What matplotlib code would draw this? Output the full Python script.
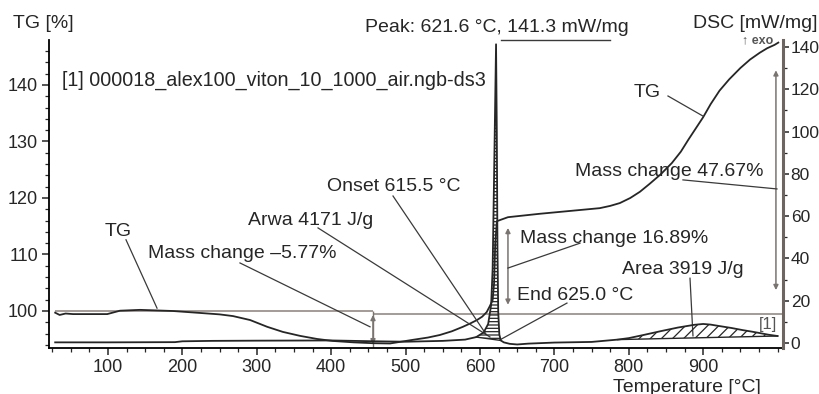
import numpy as np
import matplotlib
matplotlib.use("Agg")
import matplotlib.pyplot as plt
from matplotlib.ticker import MultipleLocator

# ── Data ──────────────────────────────────────────────────────────────────────
tg_temp = [29, 35, 43, 53, 99, 116, 143, 187, 224, 250, 268, 291, 314, 335, 358,
           381, 402, 430, 456, 479, 510, 530, 546, 562, 577, 587, 596, 603, 609,
           613, 617, 619, 620.5, 622.8, 637.6, 680, 761, 775, 788, 802, 815, 828,
           843, 858, 870, 880, 890, 900, 910, 922, 935, 950, 963, 976, 986, 996, 1001]
tg_val = [99.7, 99.3, 99.55, 99.45, 99.45, 100.05, 100.2, 100.0, 99.65, 99.4,
          99.1, 98.4, 97.2, 96.3, 95.6, 95.05, 94.7, 94.45, 94.3, 94.25, 94.9,
          95.3, 95.75, 96.4, 97.2, 97.8, 98.4, 99.0, 99.8, 100.8, 101.9, 105.0,
          112.0, 115.9, 116.6, 117.2, 118.2, 118.6, 119.1, 120.0, 121.1, 122.5,
          124.2, 126.2, 128.2, 130.3, 132.3, 134.3, 136.6, 139.0, 141.0, 143.0,
          144.5, 145.7, 146.5, 147.1, 147.5]

dsc_temp = [29, 100, 190, 200, 240, 300, 400, 460, 500, 550, 580, 595, 605,
            611, 615, 617, 619, 621.6, 622.6, 623.5, 624.5, 626, 628, 632, 640,
            650, 665, 700, 750, 785, 800, 820, 843, 866, 888, 900, 910, 922, 938,
            953, 965, 976, 988, 1000]
dsc_val = [0.3, 0.3, 0.4, 0.8, 1.0, 1.1, 1.2, 0.8, 0.6, 1.0, 1.6, 2.8, 5.0,
           9.0, 18.0, 35.0, 80.0, 141.3, 100.0, 45.0, 15.0, 4.0, 1.2, 0.3, -0.4,
           -0.7, -0.3, 0.2, 0.5, 1.6, 2.3, 3.8, 5.6, 7.3, 8.6, 9.0, 8.7, 8.0, 7.1,
           6.1, 5.4, 4.7, 3.9, 3.3]

peak1_range = (595, 628)    # area 4171 J/g
peak2_range = (785, 1000)   # area 3919 J/g

x_ticks = [100, 200, 300, 400, 500, 600, 700, 800, 900]
tg_ticks = [100, 110, 120, 130, 140]
dsc_ticks = [0, 20, 40, 60, 80, 100, 120, 140]

FONT = ["Liberation Sans", "DejaVu Sans"]
INK = "#262626"
REF = "#8c8079"
ARR = "#7a7470"
FS = 14

plt.rcParams.update({
    "font.family": FONT,
    "font.size": 13,
    "hatch.linewidth": 0.9,
    "hatch.color": INK,
})

fig = plt.figure(figsize=(8.2, 3.94), dpi=100)
ax = fig.add_axes([49 / 820, 1 - 348 / 394, 734 / 820, 308 / 394])
ax2 = ax.twinx()

ax.set_xlim(20.7, 1007.3)
ax.set_ylim(93.45, 147.96)
ax2.set_ylim(-2.37, 143.33)

for a in (ax, ax2):
    a.spines["top"].set_visible(False)
ax.spines["right"].set_visible(False)
ax.spines["left"].set_linewidth(1.3)
ax.spines["bottom"].set_linewidth(1.3)
ax2.spines["left"].set_visible(False)
ax2.spines["bottom"].set_visible(False)
ax2.spines["right"].set_linewidth(2.2)
ax2.spines["right"].set_color("#6e6560")

ax.set_xticks(x_ticks)
ax.xaxis.set_minor_locator(MultipleLocator(25))
ax.set_yticks(tg_ticks)
ax.yaxis.set_minor_locator(MultipleLocator(2))
ax2.set_yticks(dsc_ticks)
ax2.yaxis.set_minor_locator(MultipleLocator(10))
ax.tick_params(axis="both", which="major", direction="out", length=5, width=1.1,
               labelsize=13, colors=INK, pad=3)
ax.tick_params(axis="both", which="minor", direction="out", length=3, width=0.9, colors=INK)
ax2.tick_params(axis="y", which="major", direction="out", length=4, width=1.1,
                labelsize=12.5, colors=INK, pad=1.5)
ax2.tick_params(axis="y", which="minor", direction="out", length=3, width=0.9, colors=INK)

# ── Curves ───────────────────────────────────────────────────────────────────
ax.plot(tg_temp, tg_val, color=INK, lw=1.3, zorder=4)
ax2.plot(dsc_temp, dsc_val, color=INK, lw=1.3, zorder=4)

t = np.array(dsc_temp)
d = np.array(dsc_val)
for (lo, hi), hatch in ((peak1_range, "-----"), (peak2_range, "///")):
    m = (t >= lo) & (t <= hi)
    base = np.interp(t[m], [lo, hi], [np.interp(lo, t, d), np.interp(hi, t, d)])
    ax2.fill_between(t[m], base, d[m], facecolor="none", edgecolor=INK,
                     hatch=hatch, lw=0, zorder=3)
    ax2.plot(t[m][[0, -1]], base[[0, -1]], color=INK, lw=1.0, zorder=3)

# ── Reference lines and mass-change arrows ───────────────────────────────────
ax.hlines(100.0, 29, 456.2, color=REF, lw=1.1)
ax.hlines(99.38, 456.2, 1007.3, color=REF, lw=1.1)
ax.vlines(456.2, 93.45, 100.0, color=ARR, lw=1.0)

arrow = dict(arrowstyle="<|-|>", color=ARR, lw=1.1, mutation_scale=7,
             shrinkA=0, shrinkB=0)
ax.annotate("", xy=(456.2, 99.3), xytext=(456.2, 94.1), arrowprops=arrow)
ax.annotate("", xy=(637.6, 114.7), xytext=(637.6, 101.1), arrowprops=arrow)
ax.annotate("", xy=(997.8, 142.6), xytext=(997.8, 103.7), arrowprops=arrow)

# ── Annotations ──────────────────────────────────────────────────────────────
labels = [
    (824.5, 138.6, "TG", "center"),
    (727.7, 124.6, "Mass change 47.67%", "left"),
    (394.4, 122.1, "Onset 615.5 \u00b0C", "left"),
    (288.2, 116.1, "Arwa 4171 J/g", "left"),
    (113.4, 114.0, "TG", "center"),
    (153.8, 110.1, "Mass change \u20135.77%", "left"),
    (653.8, 112.9, "Mass change 16.89%", "left"),
    (649.7, 102.8, "End 625.0 \u00b0C", "left"),
    (790.9, 107.3, "Area 3919 J/g", "left"),
]
for x, y, s, ha in labels:
    ax.text(x, y, s, ha=ha, va="center", fontsize=FS, color=INK, zorder=6)
ax.text(38, 140.9, "[1] 000018_alex100_viton_10_1000_air.ngb-ds3", ha="left",
        va="center", fontsize=14.2, color=INK)
ax.text(987, 97.6, "[1]", ha="center", va="center", fontsize=12, color="#555")

leaders = [
    ((852.7, 138.05), (899.7, 134.5)),
    ((872.8, 123.2), (999.2, 121.6)),
    ((483.1, 120.35), (608.1, 95.9)),
    ((382.3, 114.7), (613.4, 95.4)),
    ((124.2, 112.6), (165.9, 100.5)),
    ((277.4, 108.5), (452.2, 97.2)),
    ((637.6, 107.6), (734.4, 112.0)),
    ((716.9, 101.4), (626.9, 94.9)),
    ((882.3, 105.8), (886.3, 95.6)),
]
for (x1, y1), (x2, y2) in leaders:
    ax.plot([x1, x2], [y1, y2], color="#3a3a3a", lw=0.9, zorder=5)

# peak marker line along the top
ax.plot([628.2, 774.7], [147.96, 147.96], color="#3a3a3a", lw=1.0, clip_on=False)
fig.text(365 / 820, 1 - 32 / 394, "Peak: 621.6 \u00b0C, 141.3 mW/mg",
         fontsize=FS, color=INK, va="baseline")

fig.text(13 / 820, 1 - 28.5 / 394, "TG [%]", fontsize=FS, color=INK, va="baseline")
fig.text(818 / 820, 1 - 27.5 / 394, "DSC [mW/mg]", fontsize=FS, color=INK,
         va="baseline", ha="right")
fig.text(773 / 820, 1 - 40.7 / 394, "\u2191 exo", fontsize=9, fontweight="bold",
         color="#555", va="center", ha="right")
fig.text(613 / 820, 1 - 391.5 / 394, "Temperature [\u00b0C]", fontsize=FS,
         color=INK, va="baseline")

fig.savefig("out.png", dpi=100)
